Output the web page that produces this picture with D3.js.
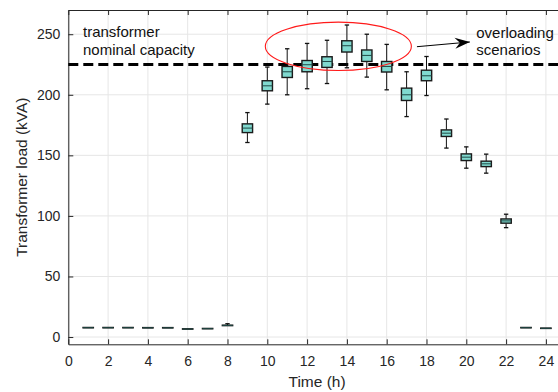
<!DOCTYPE html>
<html>
<head>
<meta charset="utf-8">
<script src="https://cdn.jsdelivr.net/npm/d3@7"></script>
<style>
  body { margin: 0; background: #fff; }
  svg { display: block; font-family: "Liberation Sans", Arial, sans-serif; }
</style>
</head>
<body>
<svg id="chart" width="558" height="392"></svg>
<script>
// hourly transformer load distributions (kVA)
const hours = [1, 2, 3, 4, 5, 6, 7, 8, 9, 10, 11, 12, 13, 14, 15, 16, 17, 18, 19, 20, 21, 22, 23, 24];
const whiskerLow = [7.6, 7.6, 7.6, 7.5, 7.5, 6.5, 6.8, 9.4, 160.6, 192.3, 200, 205, 209.3, 222.3, 214.6, 204.1, 182, 199.4, 156, 139.4, 135.3, 90.3, 7.6, 7.1];
const q1 = [7.6, 7.6, 7.6, 7.5, 7.5, 6.5, 6.8, 9.4, 168.8, 203.3, 214.3, 219, 222.6, 235.3, 227.5, 218.8, 195.3, 211.6, 165.6, 145.7, 140.7, 94, 7.6, 7.1];
const medians = [7.7, 7.7, 7.7, 7.6, 7.6, 6.6, 6.9, 9.6, 172.5, 207.4, 219, 224.8, 227.5, 240.5, 232.5, 223.4, 200, 215.7, 168.3, 148.5, 143, 95.9, 7.7, 7.2];
const q3 = [7.9, 7.9, 7.9, 7.8, 7.8, 6.8, 7.1, 9.8, 176, 211.6, 223.4, 228.3, 231.4, 244.6, 237, 227.5, 205.5, 220.3, 171, 151.2, 145.2, 97.5, 7.9, 7.4];
const whiskerHigh = [7.9, 7.9, 7.9, 7.8, 7.8, 6.8, 7.1, 11.0, 185.3, 222.9, 238, 242.4, 245, 257.6, 250, 241.6, 219, 231.6, 180, 157, 151, 101.4, 7.9, 7.4];
const xTicks = [0, 2, 4, 6, 8, 10, 12, 14, 16, 18, 20, 22, 24];
const yTicks = [0, 50, 100, 150, 200, 250];
const nominalCapacity = 225;

const svg = d3.select("#chart");
const x = d3.scaleLinear().domain([0, 25]).range([68.3, 565.8]);
const y = d3.scaleLinear().domain([-6, 270]).range([344.3, 10]);
const axisColor = "#262626";

// grid
const grid = svg.append("g");
grid.selectAll(".gx").data(xTicks).enter().append("line")
	.attr("x1", d => x(d)).attr("x2", d => x(d))
	.attr("y1", y(-6)).attr("y2", y(270))
	.attr("stroke", "#e6e6e6").attr("stroke-width", 1);
grid.selectAll(".gy").data(yTicks).enter().append("line")
	.attr("x1", x(0)).attr("x2", x(25))
	.attr("y1", d => y(d)).attr("y2", d => y(d))
	.attr("stroke", "#e6e6e6").attr("stroke-width", 1);

// axes (ticks inward, matlab style)
const styleAxis = g => {
	g.selectAll("path, line").attr("stroke", axisColor);
	g.selectAll("text").attr("fill", axisColor).style("font-size", "14px");
};
svg.append("g").attr("transform", `translate(0,${y(-6)})`)
	.call(d3.axisBottom(x).tickValues(xTicks).tickSizeInner(-5).tickSizeOuter(0).tickPadding(12))
	.call(styleAxis);
svg.append("g").attr("transform", `translate(0,${y(270)})`)
	.call(d3.axisTop(x).tickValues(xTicks).tickSizeInner(-5).tickSizeOuter(0).tickFormat(""))
	.call(styleAxis);
svg.append("g").attr("transform", `translate(${x(0)},0)`)
	.call(d3.axisLeft(y).tickValues(yTicks).tickSizeInner(-5).tickSizeOuter(0).tickPadding(8))
	.call(styleAxis);

svg.append("text").attr("x", x(12.5)).attr("y", 387).attr("text-anchor", "middle")
	.attr("fill", axisColor).style("font-size", "15.5px").text("Time (h)");
svg.append("text").attr("transform", `translate(27,${y(132)}) rotate(-90)`).attr("text-anchor", "middle")
	.attr("fill", axisColor).style("font-size", "15.5px").text("Transformer load (kVA)");

// nominal capacity line
svg.append("line")
	.attr("x1", x(0)).attr("x2", x(25))
	.attr("y1", y(nominalCapacity)).attr("y2", y(nominalCapacity))
	.attr("stroke", "#000").attr("stroke-width", 3).attr("stroke-dasharray", "10,5");

// box plots
const boxW = 0.52;
const capW = 0.22;
const boxes = svg.append("g").selectAll("g").data(hours).enter().append("g");
boxes.append("line")
	.attr("x1", d => x(d)).attr("x2", d => x(d))
	.attr("y1", (d, i) => y(whiskerHigh[i])).attr("y2", (d, i) => y(q3[i]))
	.attr("stroke", "#111").attr("stroke-width", 1);
boxes.append("line")
	.attr("x1", d => x(d)).attr("x2", d => x(d))
	.attr("y1", (d, i) => y(whiskerLow[i])).attr("y2", (d, i) => y(q1[i]))
	.attr("stroke", "#111").attr("stroke-width", 1);
boxes.filter((d, i) => whiskerHigh[i] > q3[i]).append("line")
	.attr("x1", d => x(d - capW / 2)).attr("x2", d => x(d + capW / 2))
	.attr("y1", d => y(whiskerHigh[hours.indexOf(d)])).attr("y2", d => y(whiskerHigh[hours.indexOf(d)]))
	.attr("stroke", "#111").attr("stroke-width", 1.3);
boxes.filter((d, i) => whiskerLow[i] < q1[i]).append("line")
	.attr("x1", d => x(d - capW / 2)).attr("x2", d => x(d + capW / 2))
	.attr("y1", d => y(whiskerLow[hours.indexOf(d)])).attr("y2", d => y(whiskerLow[hours.indexOf(d)]))
	.attr("stroke", "#111").attr("stroke-width", 1.3);
boxes.append("rect")
	.attr("x", d => x(d - boxW / 2))
	.attr("width", x(boxW) - x(0))
	.attr("y", (d, i) => y(q3[i]))
	.attr("height", (d, i) => y(q1[i]) - y(q3[i]))
	.attr("fill", "#80d9cf").attr("stroke", "#1a1a1a").attr("stroke-width", 1.4);
boxes.append("line")
	.attr("x1", d => x(d - boxW / 2)).attr("x2", d => x(d + boxW / 2))
	.attr("y1", (d, i) => y(medians[i])).attr("y2", (d, i) => y(medians[i]))
	.attr("stroke", "#1f4a46").attr("stroke-width", 1);

// annotations
svg.append("text").attr("x", x(0.74)).attr("y", y(248)).attr("fill", "#111")
	.style("font-size", "15px").text("transformer");
svg.append("text").attr("x", x(0.74)).attr("y", y(233)).attr("fill", "#111")
	.style("font-size", "15px").text("nominal capacity");
svg.append("text").attr("x", x(20.5)).attr("y", y(247)).attr("fill", "#111")
	.style("font-size", "15px").text("overloading");
svg.append("text").attr("x", x(20.5)).attr("y", y(233)).attr("fill", "#111")
	.style("font-size", "15px").text("scenarios");

svg.append("ellipse")
	.attr("cx", x(13.57)).attr("cy", y(240))
	.attr("rx", x(3.67) - x(0)).attr("ry", y(0) - y(20))
	.attr("fill", "none").attr("stroke", "#ff1a1a").attr("stroke-width", 1.1);

svg.append("defs").append("marker")
	.attr("id", "head").attr("viewBox", "-16 -6 17 12")
	.attr("markerWidth", 17).attr("markerHeight", 12)
	.attr("markerUnits", "userSpaceOnUse").attr("orient", "auto")
	.append("path").attr("d", "M0,0 L-15,-5.5 L-10,0 L-15,5.5 Z").attr("fill", "#000");
svg.append("line")
	.attr("x1", x(17.52)).attr("y1", y(239.7))
	.attr("x2", x(20.18)).attr("y2", y(243.6))
	.attr("stroke", "#000").attr("stroke-width", 1)
	.attr("marker-end", "url(#head)");
</script>
</body>
</html>
